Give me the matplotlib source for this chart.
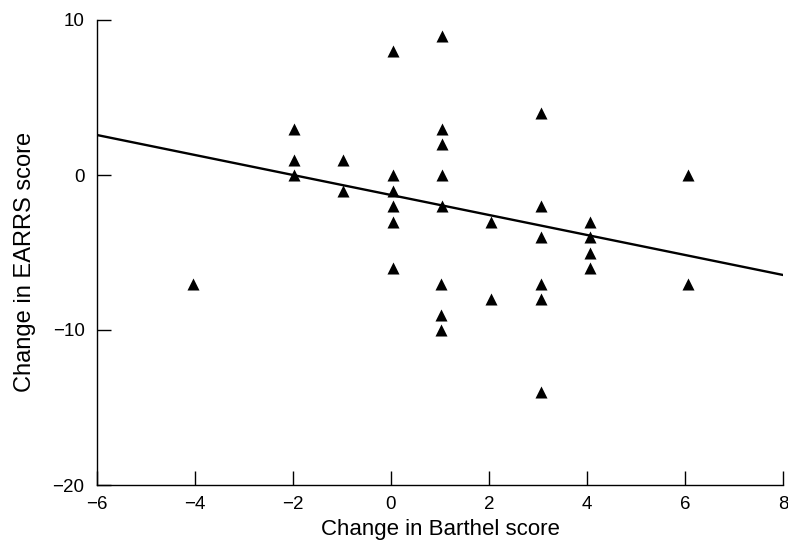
import matplotlib
matplotlib.use("Agg")
import matplotlib.pyplot as plt

# Data (x = change in Barthel score, y = change in EARRS score)
barthel = [-4.05,
           -1.98, -1.98, -1.98,
           -0.98, -0.98,
           0.05, 0.05, 0.05, 0.05, 0.05, 0.05,
           1.05, 1.05, 1.05, 1.05, 1.05, 1.03, 1.03, 1.03,
           2.05, 2.05,
           3.07, 3.07, 3.07, 3.07, 3.07, 3.07,
           4.07, 4.07, 4.07, 4.07,
           6.07, 6.07]
earrs = [-7,
         3, 1, 0,
         1, -1,
         8, 0, -1, -2, -3, -6,
         9, 3, 2, 0, -2, -7, -9, -10,
         -3, -8,
         4, -2, -4, -7, -8, -14,
         -3, -4, -5, -6,
         0, -7]

fit_slope = -0.645
fit_intercept = -1.29
x_range = [-6, 8]
y_range = [-20, 10]
x_ticks = [-6, -4, -2, 0, 2, 4, 6, 8]
y_ticks = [-20, -10, 0, 10]

plt.rcParams['font.family'] = ['Liberation Sans', 'DejaVu Sans']

fig = plt.figure(figsize=(7.88, 5.40), dpi=100)
ax = fig.add_axes([97/788, 1-485/540, (783-97)/788, (485-20)/540])

ax.scatter(barthel, earrs, marker='^', s=75, color='black', zorder=3, linewidths=0)
fx = x_range
fy = [fit_slope * v + fit_intercept for v in fx]
ax.plot(fx, fy, color='black', lw=1.7, zorder=2)

ax.set_xlim(x_range)
ax.set_ylim(y_range)
ax.set_xticks(x_ticks)
ax.set_yticks(y_ticks)
ax.spines['top'].set_visible(False)
ax.spines['right'].set_visible(False)
for s in ['left', 'bottom']:
    ax.spines[s].set_linewidth(1.0)
ax.tick_params(direction='in', length=10, width=1.0, labelsize=13.5)
ax.tick_params(axis='x', pad=8)
ax.tick_params(axis='y', pad=9)
ax.set_xlabel('Change in Barthel score', fontsize=16, labelpad=4)
ax.set_ylabel('Change in EARRS score', fontsize=17)
ax.yaxis.set_label_coords(-0.089, 0.48)

fig.savefig('out.png', dpi=100)
